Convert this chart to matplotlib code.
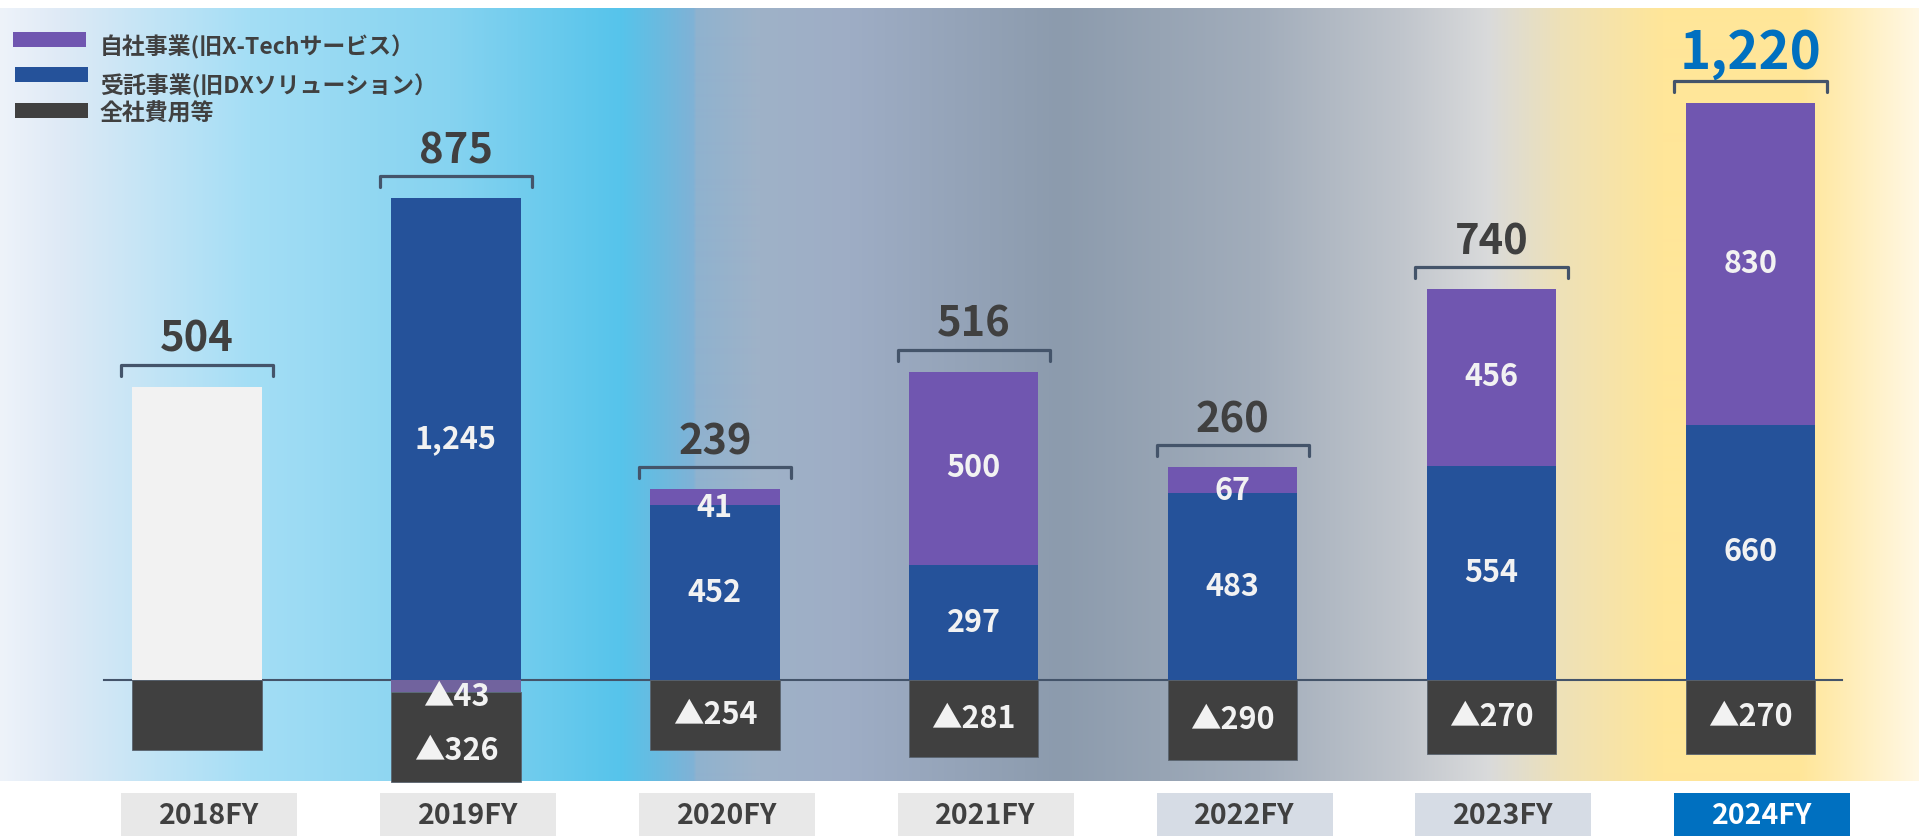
import numpy as np
import matplotlib
matplotlib.use("Agg")
import matplotlib.pyplot as plt
from matplotlib.patches import Rectangle
from matplotlib.transforms import blended_transform_factory

plt.rcParams['font.family'] = ['Noto Sans CJK JP', 'DejaVu Sans']

# ---- data ----
years = ['2018FY', '2019FY', '2020FY', '2021FY', '2022FY', '2023FY', '2024FY']
legacy = [758, 0, 0, 0, 0, 0, 0]                         # 2018: before segment split
self_biz = [0, -43, 41, 500, 67, 456, 830]               # 自社事業
contract = [0, 1245, 452, 297, 483, 554, 660]            # 受託事業
corporate = [-254, -326, -254, -281, -290, -270, -270]   # 全社費用等
totals = [504, 875, 239, 516, 260, 740, 1220]
labelled = [False, True, True, True, True, True, True]
legend_labels = ['自社事業(旧X-Techサービス）', '受託事業(旧DXソリューション）', '全社費用等']

# ---- style ----
C_SELF = '#7056b0'
C_SELF_NEG = '#71639e'
C_CONTRACT = '#25529a'
C_CORP = '#404040'
C_LEGACY = '#f2f2f2'
C_TEXT = '#404040'
C_BRACKET = '#44546a'
C_HIGHLIGHT = '#0070c0'
box_colors = ['#e8e8e8', '#e8e8e8', '#e8e8e8', '#e8e8e8', '#d6dce5', '#d6dce5', '#0070c0']

W, H = 1919, 836
NEG = 0.711          # negative side is drawn compressed in the original
PX = 1 / 0.3871      # data units per pixel on the positive side


def fwd(y):
    y = np.asarray(y, dtype=float)
    return np.where(y < 0, y * NEG, y)


def inv(y):
    y = np.asarray(y, dtype=float)
    return np.where(y < 0, y / NEG, y)


fig = plt.figure(figsize=(W / 100, H / 100), dpi=100)
fig.patch.set_facecolor('white')

# background gradient band
stops_x = [0, 60, 250, 450, 620, 660, 693, 696, 760, 850, 1060, 1260, 1400, 1487, 1560, 1663, 1800, 1919]
stops_c = ['#eef3fa', '#dfeaf6', '#a4def5', '#86d3f0', '#56c4eb', '#6bbadf', '#80b2d6', '#8fb2cf',
           '#9fb2c8', '#9eadc5', '#8c9bad', '#a2adbb', '#c0c5cc', '#d9dadb', '#eee1b8', '#ffe699',
           '#ffe699', '#fff8e5']
rgb = np.array([matplotlib.colors.to_rgb(c) for c in stops_c])
xs = np.arange(W)
grad = np.stack([np.interp(xs, stops_x, rgb[:, k]) for k in range(3)], axis=-1)[None, :, :]
bg = fig.add_axes([0, 1 - 781 / H, 1, (781 - 8) / H], zorder=0)
bg.imshow(grad, aspect='auto', extent=(0, W, 0, 1), interpolation='bilinear')
bg.axis('off')

ax = fig.add_axes([0, 0, 1, 1], zorder=1)
ax.patch.set_alpha(0)
ax.set_yscale('function', functions=(fwd, inv))
ax.set_xlim(-0.761, 6.651)
ax.set_ylim(-567, 1757)
ax.axis('off')

x = np.arange(len(years))
legacy = np.array(legacy)
self_biz = np.array(self_biz)
contract = np.array(contract)
corporate = np.array(corporate)
pos_self = np.clip(self_biz, 0, None)
neg_self = np.clip(self_biz, None, 0)

ax.axhline(0, xmin=104 / W, xmax=1842 / W, color=C_BRACKET, lw=1.5, zorder=1)

bw = 0.5
ax.bar(x, legacy, bw, color=C_LEGACY, lw=0, zorder=2)
ax.bar(x, contract, bw, color=C_CONTRACT, lw=0, zorder=2)
ax.bar(x, pos_self, bw, bottom=contract, color=C_SELF, lw=0, zorder=2)
ax.bar(x, neg_self, bw, color=C_SELF_NEG, lw=0, zorder=2)
ax.bar(x, corporate, bw, bottom=neg_self, color=C_CORP, edgecolor='#5a6470', lw=0.6, zorder=2)


def seg_label(xi, bottom, h, text, off=0):
    if abs(h) < 80:
        off = -8
    ax.annotate(text, (xi, bottom + h / 2), xytext=(0, off), textcoords='offset points',
                ha='center', va='center', color='#f2f2f2', fontsize=22, fontweight='bold', zorder=4)


for i in range(len(years)):
    if not labelled[i]:
        continue
    if contract[i]:
        seg_label(x[i], 0, contract[i], f'{contract[i]:,}')
    if pos_self[i]:
        seg_label(x[i], contract[i], pos_self[i], f'{pos_self[i]:,}')
    if neg_self[i]:
        seg_label(x[i], 0, neg_self[i], f'▲{-neg_self[i]:,}')
    # label sits lower when a negative segment is stacked above it
    seg_label(x[i], neg_self[i], corporate[i], f'▲{-corporate[i]:,}', off=-10 if neg_self[i] else 0)

# brackets and totals
top = legacy + contract + pos_self
hw = 0.294
for i in range(len(years)):
    y0 = top[i] + 11 * PX
    y1 = top[i] + 22 * PX
    ax.plot([x[i] - hw, x[i] - hw, x[i] + hw, x[i] + hw], [y0, y1, y1, y0],
            color=C_BRACKET, lw=2.3, solid_joinstyle='round', solid_capstyle='round', zorder=3)
    last = i == len(years) - 1
    ax.text(x[i], y1 + 13 * PX, f'{totals[i]:,}', ha='center', va='baseline',
            fontsize=38 if last else 30, fontweight='bold',
            color=C_HIGHLIGHT if last else C_TEXT, zorder=4)

# category boxes
trans = blended_transform_factory(ax.transData, fig.transFigure)
for i, yr in enumerate(years):
    cx = x[i] + 0.046
    ax.add_patch(Rectangle((cx - 0.34, 0), 0.68, 43 / H, transform=trans,
                           facecolor=box_colors[i], lw=0, clip_on=False, zorder=3))
    ax.text(cx, 20 / H, yr, transform=trans, ha='center', va='center', fontsize=20.5,
            fontweight='bold', color='white' if i == len(years) - 1 else C_TEXT, zorder=4)

# legend
leg_colors = [C_SELF, C_CONTRACT, C_CORP]
leg_boxes = [(13, 32), (15, 67), (15, 103)]
leg_text_y = [47, 86, 114]
for c, (lx, ly), ty, lab in zip(leg_colors, leg_boxes, leg_text_y, legend_labels):
    fig.add_artist(Rectangle((lx / W, 1 - (ly + 15) / H), 73 / W, 15 / H,
                             transform=fig.transFigure, facecolor=c, lw=0))
    fig.text(100 / W, 1 - ty / H, lab, ha='left', va='center', fontsize=16.5,
             fontweight='bold', color=C_TEXT)

fig.savefig('out.png', dpi=100)
